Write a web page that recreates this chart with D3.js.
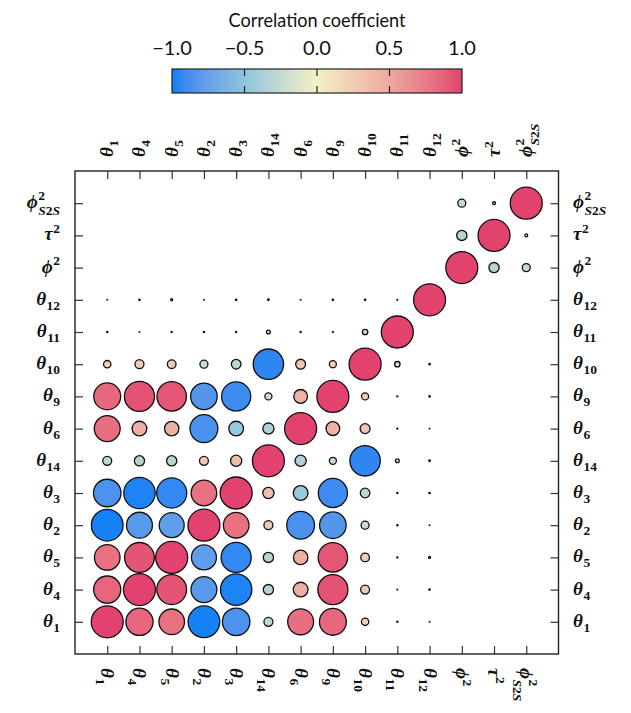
<!DOCTYPE html>
<html><head><meta charset="utf-8">
<script src="https://cdn.jsdelivr.net/npm/d3@7"></script>
<style>body{margin:0;background:#fff}svg{display:block}</style>
</head><body>
<svg id="chart" width="631" height="713"></svg>
<script>
// ---- data ----
const labels = ["θ_1","θ_4","θ_5","θ_2","θ_3","θ_14","θ_6","θ_9","θ_10","θ_11","θ_12","ϕ^2","τ^2","ϕ^2_S2S"];
const n = null;
// rows: y variable (same order as labels), columns: x variable
const corr = [
  [1, 0.85, 0.80, -0.99, -0.86, -0.28, 0.81, 0.84, 0.23, 0.035, 0.025, n, n, n],
  [0.85, 1, 0.93, -0.81, -0.98, -0.32, 0.46, 0.94, 0.28, 0.025, 0.045, n, n, n],
  [0.80, 0.93, 1, -0.78, -0.94, -0.32, 0.45, 0.92, 0.27, 0.035, 0.065, n, n, n],
  [-0.99, -0.81, -0.78, 1, 0.80, 0.28, -0.87, -0.83, -0.25, 0.04, 0.025, n, n, n],
  [-0.86, -0.98, -0.94, 0.80, 1, 0.35, -0.46, -0.91, -0.30, 0.035, 0.045, n, n, n],
  [-0.28, -0.32, -0.32, 0.28, 0.35, 1, -0.35, -0.22, -0.95, -0.12, 0.05, n, n, n],
  [0.81, 0.46, 0.45, -0.87, -0.46, -0.35, 1, 0.43, 0.31, 0.035, 0.025, n, n, n],
  [0.84, 0.94, 0.92, -0.83, -0.91, -0.22, 0.43, 1, 0.22, 0.03, 0.045, n, n, n],
  [0.23, 0.28, 0.27, -0.25, -0.30, -0.95, 0.31, 0.22, 1, -0.17, 0.045, n, n, n],
  [0.035, 0.025, 0.035, 0.04, 0.035, -0.12, 0.035, 0.03, -0.17, 1, n, n, n, n],
  [0.025, 0.045, 0.065, 0.025, 0.045, 0.05, 0.025, 0.045, 0.045, 0.03, 1, n, n, n],
  [n, n, n, n, n, n, n, n, n, n, n, 1, -0.32, -0.25],
  [n, n, n, n, n, n, n, n, n, n, n, -0.32, 1, 0.09],
  [n, n, n, n, n, n, n, n, n, n, n, -0.25, 0.09, 1]
];
const colorStops = [-1, -0.5, 0, 0.5, 1];
const colorValues = ["#0B80F5", "#8FC4DD", "#F3F1C6", "#ECA9A1", "#E2426E"];
const cbTicks = [-1, -0.5, 0, 0.5, 1];
const cbTitle = "Correlation coefficient";

// ---- layout ----
const svg = d3.select("#chart");
const L = 75, R = 558.5, T = 171, B = 654;
const x = d3.scalePoint().domain(labels).range([L, R]).padding(1);
const y = d3.scalePoint().domain(labels).range([B, T]).padding(1);
const color = d3.scaleLinear().domain(colorStops).range(colorValues).interpolate(d3.interpolateLab).clamp(true);
const rScale = d3.scaleLinear().domain([0, 1]).range([0, 16]);

// cells
const cells = [];
corr.forEach((row, i) => row.forEach((v, j) => { if (v !== null) cells.push({row: labels[i], col: labels[j], v}); }));
svg.append("g").selectAll("circle").data(cells).join("circle")
  .attr("cx", d => x(d.col)).attr("cy", d => y(d.row))
  .attr("r", d => rScale(Math.abs(d.v)))
  .attr("fill", d => color(d.v)).attr("stroke", "#111").attr("stroke-width", 1.3);

// frame & ticks
const tk = 8;
function ticksOnly(g){ g.selectAll("text").remove(); g.select(".domain").remove(); g.selectAll("line").attr("stroke","#333").attr("stroke-width",1.2); }
svg.append("g").attr("transform", `translate(0,${B})`).call(d3.axisBottom(x).tickSize(-tk).tickFormat("")).call(ticksOnly);
svg.append("g").attr("transform", `translate(0,${T})`).call(d3.axisTop(x).tickSize(-tk).tickFormat("")).call(ticksOnly);
svg.append("g").attr("transform", `translate(${L},0)`).call(d3.axisLeft(y).tickSize(-tk).tickFormat("")).call(ticksOnly);
svg.append("g").attr("transform", `translate(${R},0)`).call(d3.axisRight(y).tickSize(-tk).tickFormat("")).call(ticksOnly);
svg.append("rect").attr("x", L).attr("y", T).attr("width", R - L).attr("height", B - T)
  .attr("fill", "none").attr("stroke", "#222").attr("stroke-width", 1.4);

// math labels
const FS = 19, SFS = 13.5;
const serif = "'Liberation Serif', 'DejaVu Serif', serif";
function parseLabel(s){
  const m = s.match(/^([^_^]+)(?:\^([^_]+))?(?:_(.+))?$/);
  return {base: m[1], sup: m[2] || "", sub: m[3] || ""};
}
function addScript(g, str, xPos, dy){
  const t = g.append("text").attr("x", xPos).attr("y", dy).attr("font-family", serif)
    .attr("font-weight", "bold").attr("font-size", SFS).attr("fill","#111");
  for (const ch of str) {
    t.append("tspan").text(ch).attr("font-style", /[A-Za-z]/.test(ch) ? "italic" : "normal");
  }
  return t.node().getComputedTextLength();
}
function mathLabel(g, s){
  const p = parseLabel(s);
  const b = g.append("text").attr("font-family", serif).attr("font-style","italic").attr("font-weight","bold")
    .attr("font-size", FS).attr("fill","#111").text(p.base);
  const w = b.node().getComputedTextLength();
  let extra = 0;
  if (p.sup) extra = Math.max(extra, addScript(g, p.sup, w + 0.5, p.sub ? -8.5 : -7.5));
  if (p.sub) extra = Math.max(extra, addScript(g, p.sub, w + 0.5, p.sup ? 7 : 5));
  return w + 0.5 + extra;
}
labels.forEach(l => {
  // left
  const gl = svg.append("g");
  const wl = mathLabel(gl, l);
  gl.attr("transform", `translate(${60 - wl},${y(l) + 5})`);
  // right
  const gr = svg.append("g").attr("transform", `translate(573,${y(l) + 5})`);
  mathLabel(gr, l);
  // top (reads upward)
  const gt = svg.append("g").attr("transform", `translate(${x(l) + 6},157) rotate(-90)`);
  mathLabel(gt, l);
  // bottom (reads downward)
  const gb = svg.append("g").attr("transform", `translate(${x(l) - 6},668) rotate(90)`);
  mathLabel(gb, l);
});

// ---- colorbar ----
const cbX0 = 172, cbX1 = 462, cbY = 69, cbH = 24;
const cx = d3.scaleLinear().domain([-1, 1]).range([cbX0, cbX1]);
const defs = svg.append("defs");
const grad = defs.append("linearGradient").attr("id", "cbgrad").attr("x1", "0%").attr("x2", "100%");
d3.range(0, 1.0001, 0.05).forEach(t => {
  grad.append("stop").attr("offset", (t * 100) + "%").attr("stop-color", color(-1 + 2 * t));
});
svg.append("rect").attr("x", cbX0).attr("y", cbY).attr("width", cbX1 - cbX0).attr("height", cbH)
  .attr("fill", "url(#cbgrad)").attr("stroke", "#222").attr("stroke-width", 1.2);
const cbG = svg.append("g");
cbTicks.filter(t => t > -1 && t < 1).forEach(t => {
  cbG.append("line").attr("x1", cx(t)).attr("x2", cx(t)).attr("y1", cbY).attr("y2", cbY + 7).attr("stroke", "#222").attr("stroke-width", 1.2);
  cbG.append("line").attr("x1", cx(t)).attr("x2", cx(t)).attr("y1", cbY + cbH - 7).attr("y2", cbY + cbH).attr("stroke", "#222").attr("stroke-width", 1.2);
});
const sans = "Lato, 'Open Sans', sans-serif";
cbG.selectAll("text.tl").data(cbTicks).join("text").attr("class", "tl")
  .attr("x", d => cx(d)).attr("y", 55).attr("text-anchor", "middle")
  .attr("font-family", sans).attr("font-size", 20).attr("fill", "#111")
  .text(d => (d < 0 ? "\u2212" : "") + Math.abs(d).toFixed(1));
svg.append("text").attr("x", 317).attr("y", 27).attr("text-anchor", "middle")
  .attr("font-family", sans).attr("font-size", 19).attr("fill", "#111")
  .attr("textLength", 177).attr("lengthAdjust", "spacingAndGlyphs").text(cbTitle);
</script>
</body></html>
